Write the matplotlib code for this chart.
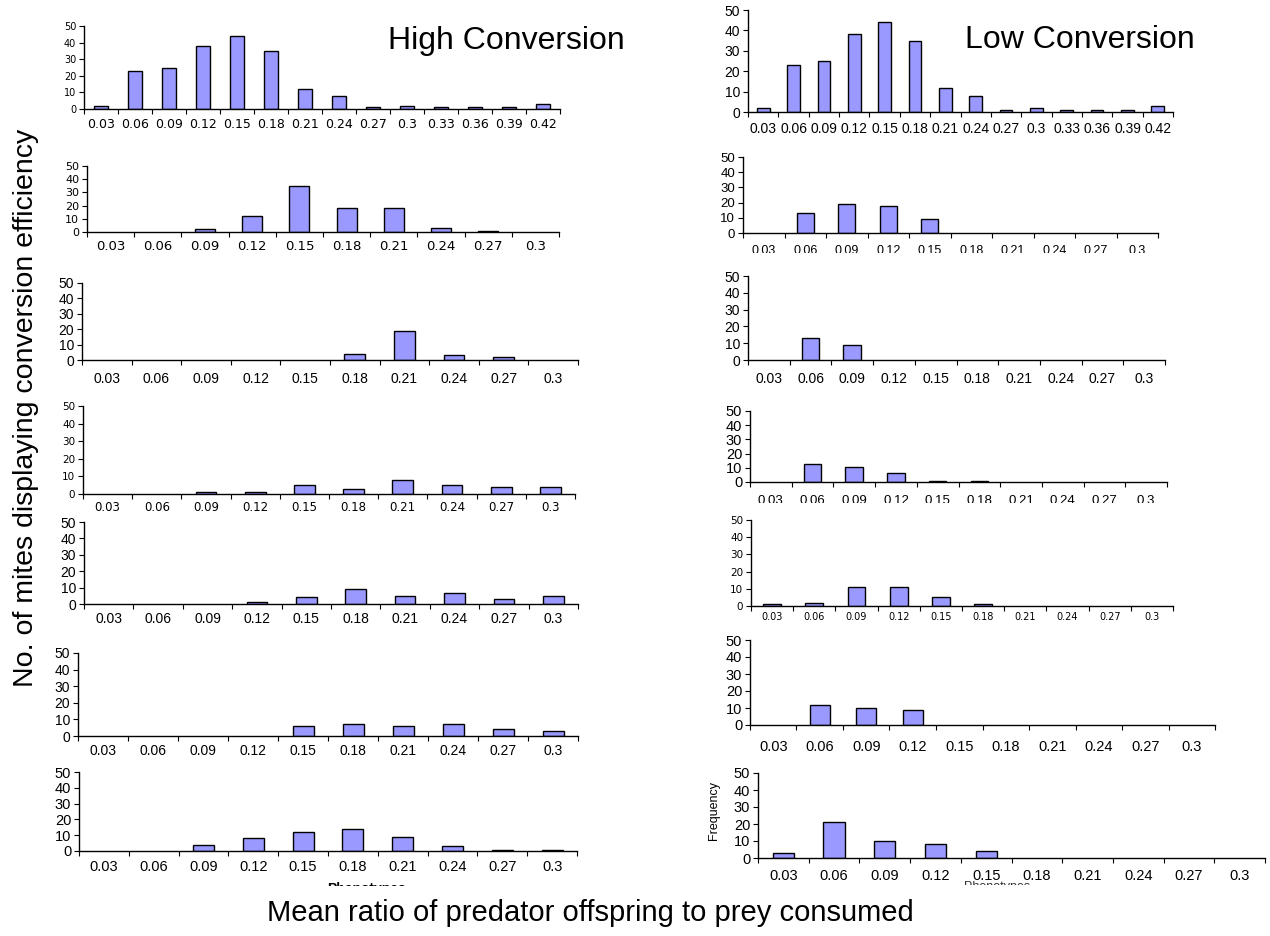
import matplotlib
matplotlib.use("Agg")
import matplotlib.pyplot as plt
from matplotlib.patches import Rectangle
from matplotlib.transforms import Bbox, TransformedBbox

# ---------------- data ----------------
cats_14 = ['0.03', '0.06', '0.09', '0.12', '0.15', '0.18', '0.21',
           '0.24', '0.27', '0.3', '0.33', '0.36', '0.39', '0.42']
cats_10 = ['0.03', '0.06', '0.09', '0.12', '0.15', '0.18', '0.21',
           '0.24', '0.27', '0.3']
y_ticks = [0, 10, 20, 30, 40, 50]

high_1 = [2, 23, 25, 38, 44, 35, 12, 8, 1, 2, 1, 1, 1, 3]
high_2 = [0, 0, 2, 12, 35, 18, 18, 3, 0.5, 0]
high_3 = [0, 0, 0, 0, 0, 4, 19, 3, 2, 0]
high_4 = [0, 0, 1, 1, 5, 3, 8, 5, 4, 4]
high_5 = [0, 0, 0, 1, 4, 9, 5, 7, 3, 5]
high_6 = [0, 0, 0, 0, 6, 7, 6, 7, 4, 3]
high_7 = [0, 0, 4, 8, 12, 14, 9, 3, 0.5, 0.5]

low_1 = [2, 23, 25, 38, 44, 35, 12, 8, 1, 2, 1, 1, 1, 3]
low_2 = [0, 13, 19, 18, 9, 0, 0, 0, 0, 0]
low_3 = [0, 13, 9, 0, 0, 0, 0, 0, 0, 0]
low_4 = [0, 13, 10.5, 6, 0.5, 0.5, 0, 0, 0, 0]
low_5 = [1, 2, 11, 11, 5, 1, 0, 0, 0, 0]
low_6 = [0, 12, 10, 9, 0, 0, 0, 0, 0, 0]
low_7 = [3, 21, 10, 8, 4, 0, 0, 0, 0, 0]

title_high = "High Conversion"
title_low = "Low Conversion"
y_label = "No. of mites displaying conversion efficiency"
x_label = "Mean ratio of predator offspring to prey consumed"

# ---------------- layout (pixels) ----------------
W, H = 1270, 936
ARIAL = ['Liberation Sans', 'DejaVu Sans']
WIDE = ['DejaVu Sans']

# (values, categories, x0, x1, y_top, y_zero, family, xsize, ysize, label offset px)
panels = [
    (high_1, cats_14, 84, 560, 26, 109, WIDE, 9.0, 7.0, 16),
    (high_2, cats_10, 87, 559, 166, 232, WIDE, 9.5, 8.0, 15),
    (high_3, cats_10, 82, 578, 283, 360, ARIAL, 10.0, 10.0, 20),
    (high_4, cats_10, 83, 575, 406, 494, WIDE, 8.5, 7.5, 13),
    (high_5, cats_10, 84, 578, 522, 604, ARIAL, 10.0, 10.0, 16),
    (high_6, cats_10, 78, 578, 653, 736, ARIAL, 10.0, 10.0, 16),
    (high_7, cats_10, 79, 577, 772, 851, ARIAL, 10.5, 10.5, 17),
    (low_1, cats_14, 748, 1173, 10, 112, ARIAL, 10.0, 10.0, 18),
    (low_2, cats_10, 743, 1158, 157, 233, ARIAL, 9.0, 9.5, 19),
    (low_3, cats_10, 748, 1165, 276, 360, ARIAL, 10.0, 10.0, 20),
    (low_4, cats_10, 750, 1167, 411, 482, ARIAL, 9.5, 10.5, 20),
    (low_5, cats_10, 751, 1173, 520, 606, WIDE, 7.0, 7.5, 11),
    (low_6, cats_10, 750, 1215, 640, 725, ARIAL, 10.5, 10.5, 23),
    (low_7, cats_10, 758, 1265, 773, 858, ARIAL, 10.5, 10.5, 19),
]

# tick-label strips partly hidden by the panel below: (x0, x1, y_from, y_to) px
hidden_strips = [(735, 1175, 253, 268), (735, 1180, 503, 515)]

fig = plt.figure(figsize=(W / 100, H / 100), dpi=100)
fig.patch.set_facecolor('white')

def fig_bbox(x0, y0, x1, y1):
    return TransformedBbox(Bbox([[x0 / W, 1 - y1 / H], [x1 / W, 1 - y0 / H]]),
                           fig.transFigure)

BAR_COLOR = '#9999ff'
TICK_LEN_PT = 3.6

for (vals, cats, x0, x1, ytop, yzero, fam, xs, ys, off) in panels:
    ax = fig.add_axes([x0 / W, 1 - yzero / H, (x1 - x0) / W, (yzero - ytop) / H])
    ax.set_facecolor('none')
    n = len(cats)
    pos = list(range(n))
    lws = [1.0 if v > 0 else 0.0 for v in vals]
    ax.bar(pos, vals, width=0.42, color=BAR_COLOR, edgecolor='black',
           linewidth=lws, zorder=3)
    ax.set_xlim(-0.5, n - 0.5)
    ax.set_ylim(0, 50)
    for s in ('top', 'right'):
        ax.spines[s].set_visible(False)
    for s in ('left', 'bottom'):
        ax.spines[s].set_color('black')
        ax.spines[s].set_linewidth(1.0)
        ax.spines[s].set_zorder(4)
    ax.set_yticks(y_ticks)
    ax.set_yticklabels([str(v) for v in y_ticks], family=fam, fontsize=ys)
    ax.tick_params(axis='y', direction='out', length=TICK_LEN_PT, width=0.8, pad=2)
    # labels at category centres, tick marks at category boundaries
    ax.set_xticks(pos)
    ax.set_xticks([p - 0.5 for p in range(n + 1)], minor=True)
    s_px = xs * 100 / 72
    len_px = TICK_LEN_PT * 100 / 72
    pad_px = max(off - len_px - 0.55 * s_px, 0.5)
    ax.set_xticklabels(cats, family=fam, fontsize=xs)
    ax.tick_params(axis='x', which='major', length=len_px * 72 / 100, width=0,
                   pad=pad_px * 72 / 100)
    ax.tick_params(axis='x', which='minor', direction='out', length=TICK_LEN_PT,
                   width=0.8)

for (sx0, sx1, sy0, sy1) in hidden_strips:
    fig.patches.append(Rectangle((sx0 / W, 1 - sy1 / H), (sx1 - sx0) / W,
                                 (sy1 - sy0) / H, transform=fig.transFigure,
                                 facecolor='white', edgecolor='none', zorder=5))

# panel titles
fig.text(506 / W, 1 - 41 / H, title_high, ha='center', va='center',
         fontsize=23, family=ARIAL)
fig.text(1080 / W, 1 - 40 / H, title_low, ha='center', va='center',
         fontsize=23, family=ARIAL)

# shared axis labels
fig.text(26 / W, 1 - 408 / H, y_label, rotation=90, ha='center', va='center',
         fontsize=20.5, family=ARIAL)
fig.text(590 / W, 1 - 913 / H, x_label, ha='center', va='center',
         fontsize=21, family=ARIAL)

# remnants of original sub-chart labels
fig.text(714 / W, 1 - 811 / H, "Frequency", rotation=90, ha='center',
         va='center', fontsize=9, family=ARIAL)
t1 = fig.text(367 / W, 1 - 882 / H, "Phenotypes", ha='center', va='top',
              fontsize=10, fontweight='bold', family=ARIAL)
t1.set_clip_box(fig_bbox(0, 0, W, 886))
t1.set_clip_on(True)
t2 = fig.text(997 / W, 1 - 881 / H, "Phenotypes", ha='center', va='top',
              fontsize=9, color='#333333', family=ARIAL)
t2.set_clip_box(fig_bbox(0, 0, W, 885))
t2.set_clip_on(True)

fig.savefig('out.png', dpi=100, facecolor='white')
